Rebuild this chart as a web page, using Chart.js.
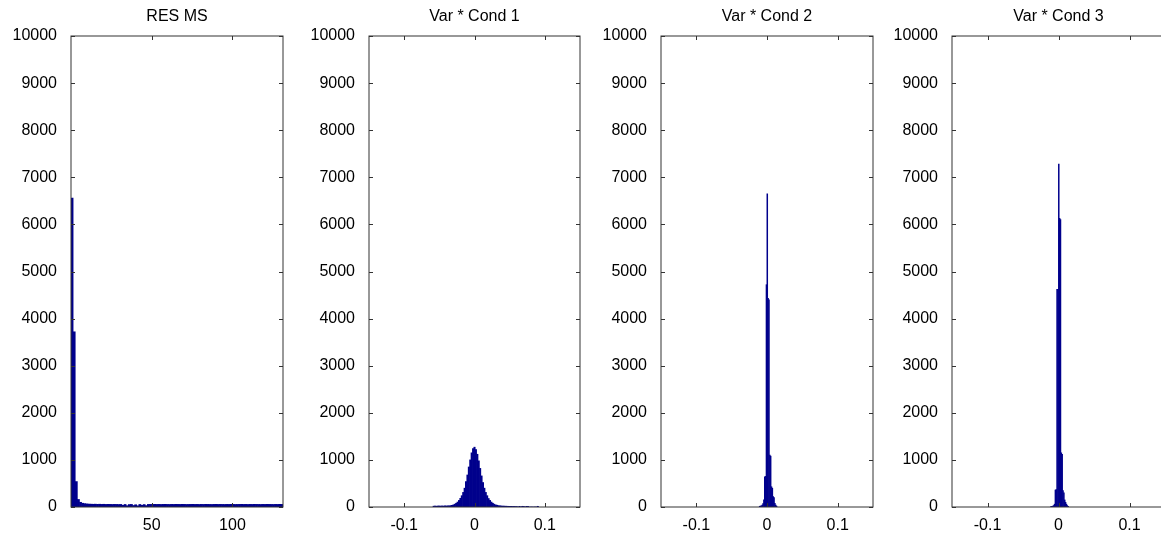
<!DOCTYPE html>
<html>
<head>
<meta charset="utf-8">
<script src="https://cdn.jsdelivr.net/npm/chart.js@4.4.1/dist/chart.umd.min.js"></script>
<style>
  html, body { margin: 0; padding: 0; background: #fff; overflow: hidden; }
  body { width: 1161px; height: 536px; position: relative; }
  .panel { position: absolute; top: 0; height: 536px; }
</style>
</head>
<body>
<div class="panel" id="p1" style="left:1px;width:288px"><canvas id="c1"></canvas></div>
<div class="panel" id="p2" style="left:299px;width:287px"><canvas id="c2"></canvas></div>
<div class="panel" id="p3" style="left:591px;width:288px"><canvas id="c3"></canvas></div>
<div class="panel" id="p4" style="left:882px;width:289px"><canvas id="c4"></canvas></div>
<script>
// Histogram counts
const titles = ['RES MS', 'Var * Cond 1', 'Var * Cond 2', 'Var * Cond 3'];
const yTicks = [0, 1000, 2000, 3000, 4000, 5000, 6000, 7000, 8000, 9000, 10000];
const resTicks = [50, 100];
const varTicks = [-0.1, 0, 0.1];

// RES MS: 100 bins from 0 to ~131
const resBinStart = 0;
const resBinWidth = 1.313;
const resCounts = [
    6560, 3720, 540, 160, 100, 80, 72, 66, 62, 60,
    58, 60, 57, 59, 56, 58, 55, 57, 56, 54,
    56, 55, 53, 55, 35, 54, 28, 52, 55, 32,
    48, 26, 54, 35, 52, 30, 55, 56, 54, 57,
    55, 56, 54, 56, 57, 55, 54, 56, 55, 57,
    56, 55, 57, 56, 54, 55, 56, 57, 55, 56,
    54, 56, 55, 57, 56, 55, 54, 56, 57, 55,
    56, 55, 54, 56, 55, 57, 56, 54, 55, 56,
    57, 55, 56, 54, 56, 55, 57, 56, 55, 54,
    56, 55, 57, 56, 55, 54, 56, 55, 57, 56
];

// Var * Cond 1: bins of 0.002 starting at -0.059
const cond1BinStart = -0.059;
const cond1BinWidth = 0.002;
const cond1Counts = [
    18, 20, 18, 20, 22, 19, 22, 20, 24, 22,
    25, 24, 30, 35, 45, 60, 80, 105, 140, 185,
    240, 310, 400, 540, 680, 850, 1000, 1150, 1240, 1270,
    1220, 1120, 980, 820, 660, 520, 400, 310, 240, 180,
    140, 105, 80, 60, 45, 38, 30, 25, 22, 20,
    18, 18, 16, 15, 14, 14, 12, 12, 10, 10,
    0, 14, 0, 15, 12, 0, 14, 12, 0, 0,
    0, 0, 0, 0, 15
];

// Var * Cond 2 and 3: bins of 0.0012 starting at -0.011
const narrowBinStart = -0.011;
const narrowBinWidth = 0.0012;
const cond2Counts = [
    15, 20, 25, 40, 70, 150, 640, 650, 4720, 6650,
    4430, 4400, 1100, 1080, 430, 400, 220, 200, 80, 40, 18
];
const cond3Counts = [
    12, 15, 20, 30, 60, 360, 370, 4620, 4620, 7280,
    6130, 6100, 1150, 1120, 350, 300, 150, 100, 60, 30, 15
];

const barColor = 'rgb(0, 0, 140)';
const fontFamily = "'Liberation Sans', Arial, Helvetica, sans-serif";

function toPoints(counts, start, width) {
    return counts.map((c, i) => ({ x: start + (i + 0.5) * width, y: c }));
}

// box round the plot with inner tick marks on all four sides, title centred over the plot
const framePlugin = {
    id: 'frame',
    afterDraw(chart) {
        const { ctx, chartArea: a, scales: { x, y } } = chart;
        ctx.save();
        ctx.strokeStyle = '#333';
        ctx.lineWidth = 1;
        ctx.beginPath();
        y.ticks.forEach(t => {
            const py = Math.round(y.getPixelForValue(t.value)) + 0.5;
            ctx.moveTo(a.left, py); ctx.lineTo(a.left + 4, py);
            ctx.moveTo(a.right, py); ctx.lineTo(a.right - 4, py);
        });
        x.ticks.forEach(t => {
            const px = Math.round(x.getPixelForValue(t.value)) + 0.5;
            ctx.moveTo(px, a.bottom); ctx.lineTo(px, a.bottom - 4);
            ctx.moveTo(px, a.top); ctx.lineTo(px, a.top + 4);
        });
        ctx.stroke();
        ctx.strokeRect(Math.round(a.left), Math.round(a.top),
            Math.round(a.right) - Math.round(a.left), Math.round(a.bottom) - Math.round(a.top));

        ctx.fillStyle = '#000';
        ctx.font = '16px ' + fontFamily;
        ctx.textAlign = 'center';
        ctx.textBaseline = 'middle';
        ctx.fillText(chart.options.plugins.frame.title, (a.left + a.right) / 2, 17);
        ctx.restore();
    }
};

function makeChart(canvasId, title, points, xMin, xMax, xTicks) {
    return new Chart(document.getElementById(canvasId), {
        type: 'bar',
        data: {
            datasets: [{
                data: points,
                backgroundColor: barColor,
                borderWidth: 0,
                barPercentage: 1,
                categoryPercentage: 1
            }]
        },
        options: {
            responsive: true,
            maintainAspectRatio: false,
            animation: false,
            layout: { padding: { left: 0, right: 6, top: 36, bottom: 0 } },
            plugins: {
                legend: { display: false },
                tooltip: { enabled: false },
                title: { display: false },
                frame: { title: title }
            },
            scales: {
                x: {
                    type: 'linear',
                    min: xMin,
                    max: xMax,
                    offset: false,
                    grid: { display: false, offset: false, drawTicks: false },
                    border: { display: false },
                    afterBuildTicks: s => { s.ticks = xTicks.map(v => ({ value: v })); },
                    afterFit: s => { s.height = 29; },
                    ticks: {
                        autoSkip: false,
                        maxRotation: 0,
                        padding: 9,
                        color: '#000',
                        font: { family: fontFamily, size: 16 },
                        callback: v => String(v)
                    }
                },
                y: {
                    min: 0,
                    max: 10000,
                    grid: { display: false, drawTicks: false },
                    border: { display: false },
                    afterBuildTicks: s => { s.ticks = yTicks.map(v => ({ value: v })); },
                    afterFit: s => { s.width = 70; },
                    ticks: {
                        autoSkip: false,
                        padding: 14,
                        color: '#000',
                        font: { family: fontFamily, size: 16 },
                        callback: v => String(v)
                    }
                }
            }
        },
        plugins: [framePlugin]
    });
}

makeChart('c1', titles[0], toPoints(resCounts, resBinStart, resBinWidth), 0, 131.3, resTicks);
makeChart('c2', titles[1], toPoints(cond1Counts, cond1BinStart, cond1BinWidth), -0.15, 0.15, varTicks);
makeChart('c3', titles[2], toPoints(cond2Counts, narrowBinStart, narrowBinWidth), -0.15, 0.15, varTicks);
makeChart('c4', titles[3], toPoints(cond3Counts, narrowBinStart, narrowBinWidth), -0.15, 0.15, varTicks);
</script>
</body>
</html>
